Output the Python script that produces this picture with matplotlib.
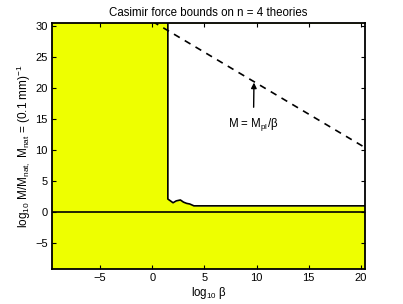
import matplotlib
matplotlib.use("Agg")
import matplotlib.pyplot as plt
import numpy as np

plt.rcParams['font.family'] = ['Liberation Sans', 'DejaVu Sans']
plt.rcParams['mathtext.fontset'] = 'custom'
plt.rcParams['mathtext.rm'] = 'Liberation Sans'
plt.rcParams['mathtext.it'] = 'Liberation Sans'

# excluded-region boundary (log10 beta, log10 M/M_nat)
bound_beta = [1.5, 1.5, 2.0, 2.3, 2.7, 3.0, 3.3, 3.6, 4.0, 20.4]
bound_logM = [30.5, 2.1, 1.5, 1.8, 1.95, 1.6, 1.4, 1.3, 1.0, 1.0]

# M = M_pl / beta
pl_beta = [-1.0, 20.4]
pl_logM = [31.8, 10.4]

xticks = [-5, 0, 5, 10, 15, 20]
yticks = [-5, 0, 5, 10, 15, 20, 25, 30]
yellow = '#eeff00'

fig = plt.figure(figsize=(4.03, 3.04), dpi=100)
ax = fig.add_axes([0.129, 0.115, 0.777, 0.809])
ax.set_facecolor(yellow)

xlim = (-9.6, 20.4)
ylim = (-9.2, 30.5)

ax.fill_between(bound_beta, bound_logM, ylim[1], color='white', lw=0, zorder=1)
ax.plot(bound_beta, bound_logM, color='black', lw=1.2, zorder=3)
ax.axhline(0, color='black', lw=1.2, zorder=3)
ax.plot(pl_beta, pl_logM, color='black', lw=1.2, ls=(0, (4, 3.5)), zorder=3)

ax.annotate(r'M = M$_{pl}$/β', xy=(9.75, 20.9), xytext=(9.7, 14.2),
            ha='center', va='center', fontsize=8.3,
            arrowprops=dict(arrowstyle='-|>', color='black', lw=1.0,
                            mutation_scale=8, shrinkA=4, shrinkB=0))

ax.set_xlim(*xlim)
ax.set_ylim(*ylim)
ax.set_xticks(xticks)
ax.set_yticks(yticks)
ax.set_xticklabels([str(t).replace('-', '\u2212') for t in xticks])
ax.set_yticklabels([str(t).replace('-', '\u2212') for t in yticks])
ax.tick_params(direction='in', top=True, right=True, labelsize=8,
               length=3, width=0.8, pad=3)
for s in ax.spines.values():
    s.set_linewidth(1.3)
    s.set_zorder(5)

ax.set_title('Casimir force bounds on n = 4 theories', fontsize=8.3, pad=5)
ax.set_xlabel(r'log$_{10}$ β', fontsize=8.3, labelpad=1)
ax.set_ylabel(r'log$_{10}$ M/M$_{nat,}$ M$_{nat}$ = (0.1 mm)$^{-1}$',
              fontsize=8.5, labelpad=2)

fig.savefig('out.png', dpi=100)
